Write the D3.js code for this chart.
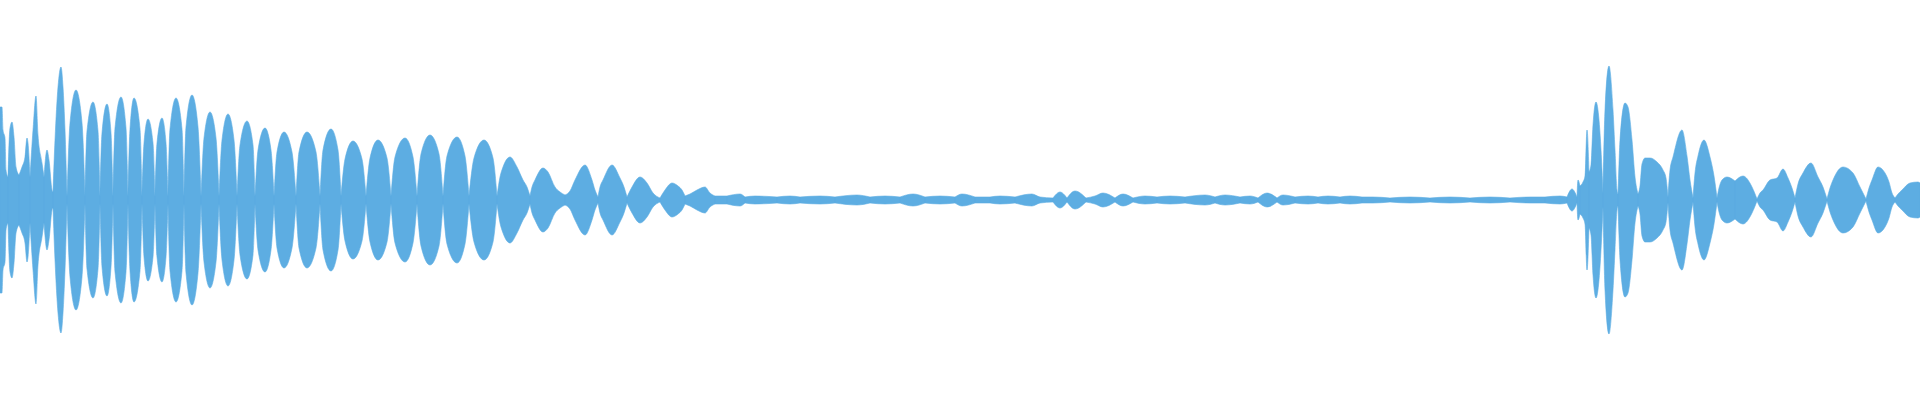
<!DOCTYPE html>
<html>
<head>
<meta charset="utf-8">
<script src="https://cdn.jsdelivr.net/npm/d3@7"></script>
<style>
  html, body { margin: 0; padding: 0; background: #ffffff; overflow: hidden; }
  svg { display: block; }
</style>
</head>
<body>
<svg id="chart" width="1920" height="400"></svg>
<script>
// Audio waveform envelope: frame index (timeline position) and peak amplitude (% of full scale)
const totalFrames = 1920;
const amplitudeDomain = [-100, 100];

const frameA = [0, 2, 3, 5, 6, 8, 10, 12, 14, 16, 19, 22, 25, 27, 28, 30, 33, 36, 38, 42, 44, 47, 49, 52, 53, 55, 58, 61, 63, 65, 67];
const ampA   = [46.5, 46.5, 35, 31, 15, 11.5, 36, 39, 31.5, 16.5, 12.5, 16.5, 21.5, 31, 28.5, 11.5, 35, 52, 32.5, 18.5, 11.5, 25, 20, 5, 4, 30, 56.5, 66.5, 56.5, 35, 2];

const frameB = [70, 76, 82, 85, 87, 93, 98, 100, 102, 107, 111, 113, 115, 121, 126, 128, 130, 134, 140, 142, 144, 148, 153, 155, 157, 162, 166, 168, 170, 176, 182, 184, 186, 192, 198, 201, 204, 210, 216, 219, 222, 228, 234, 237, 240, 247, 253, 255, 258, 265, 271, 274, 277, 284, 292, 296, 299, 307, 316, 320, 323, 331, 338, 341, 345, 353, 362, 366, 370, 378, 387, 391, 395, 405, 413, 417, 421, 430, 439, 443, 447, 457, 465, 469, 474, 484, 493, 497];
const ampB   = [38.5, 55, 38.5, 2, 34.5, 49, 34.5, 2, 33.5, 48, 33.5, 2, 36, 51.5, 36, 2, 35.5, 51, 35.5, 2, 28.5, 40.5, 28.5, 2, 28.5, 41, 28.5, 2, 35.5, 51, 35.5, 2, 36.5, 52.5, 36.5, 2, 31, 44, 31, 2, 30, 43, 30, 2, 27.5, 39.5, 27.5, 2, 25, 36, 25, 2, 24, 34, 24, 2, 24, 34, 24, 2, 25, 35.5, 25, 2, 20.5, 29.5, 20.5, 2, 21, 30, 21, 2, 21.5, 31, 21.5, 2, 23, 32.5, 23, 2, 22, 31.5, 22, 2, 21, 30, 21, 2];

const frameC = [500, 503, 510, 517, 523, 527, 530, 532, 535, 543, 548, 555, 560, 565, 570, 575, 585, 592, 595, 598, 600, 603, 612, 620, 624, 627, 632, 640, 647, 653, 660, 665, 672, 678, 682, 685, 690, 697, 705, 710, 715];
const ampC   = [11.5, 16.5, 21.5, 16.5, 10, 6.5, 2, 6.5, 10, 16, 14, 6.5, 4, 2.5, 4.5, 10, 17.5, 10, 5, 1.5, 6.5, 10, 17.5, 11, 6.5, 1.5, 6.5, 11.5, 8.5, 3.5, 1, 5, 8.5, 7, 5, 2, 3, 5, 6.5, 3.5, 2];

const frameD = [727, 740, 745, 755, 777, 790, 800, 820, 835, 857, 870, 885, 900, 913, 925, 940, 955, 962, 975, 990, 1000, 1015, 1032, 1040, 1053, 1060, 1067, 1075, 1086, 1095, 1103, 1115, 1123, 1133, 1145, 1157, 1170, 1185, 1205, 1215, 1225, 1240, 1250, 1258, 1267, 1277, 1283, 1295, 1308, 1318, 1328, 1340, 1350, 1362, 1373, 1390, 1410, 1430, 1450, 1470, 1490, 1510, 1530, 1545, 1560, 1567];
const ampD   = [2, 3, 1.5, 2, 1.5, 2, 1.5, 2, 1.5, 2.5, 1.5, 2, 1.5, 3, 1.5, 2, 1.5, 3, 1.5, 1.5, 2, 1.5, 3, 1.5, 1, 4, 1, 4.5, 1, 2, 3.5, 1, 3, 1, 2, 1.5, 2, 1.5, 2.5, 1.5, 2.5, 1.5, 2, 1, 3.5, 1, 2.5, 1.5, 2, 1.5, 2, 1.5, 2, 1.5, 1.5, 1, 1.5, 1, 1.5, 1, 1.5, 1, 1.5, 1.5, 2, 1.5];

const frameE = [1572, 1577, 1578, 1580, 1583, 1585, 1587, 1589, 1591, 1593, 1596, 1599, 1602, 1603, 1605, 1609, 1613, 1615, 1617, 1618, 1619, 1620, 1625, 1628, 1632, 1635, 1638];
const ampE   = [5.5, 1.5, 10, 7, 9, 12, 35, 14, 17.5, 37.5, 49, 40, 15, 3.5, 45, 67, 45, 25, 5, 3, 18, 30, 48.5, 46.5, 30, 11.5, 3];

const frameF = [1640, 1642, 1645, 1650, 1657, 1663, 1666, 1668, 1670, 1673, 1682, 1687, 1690, 1693, 1695, 1698, 1704, 1710, 1714, 1717, 1719, 1722, 1727, 1735, 1743, 1752, 1757, 1760, 1763, 1770, 1777, 1783, 1788, 1792, 1795, 1798, 1803, 1811, 1818, 1823, 1827, 1830, 1833, 1843, 1853, 1860, 1866, 1869, 1872, 1878, 1885, 1889, 1892, 1895, 1898, 1902, 1910, 1918, 1920];
const ampF   = [7, 18, 21, 21, 19, 15, 11, 1.5, 15, 21.5, 35, 22, 10, 1, 13.5, 22, 30, 21.5, 12, 1, 6, 10, 11.5, 9.5, 12, 6.5, 0.5, 3.5, 5, 10, 11, 15.5, 11, 6, 1, 8, 13.5, 18.5, 11.5, 6.5, 0.5, 6, 10, 16.5, 13.5, 6.5, 0.5, 6, 10, 16.5, 13.5, 9, 3.5, 1, 3, 5, 8.5, 9, 8.5];

const waveColor = "#5dade2";

// ---- build ----
const frames = [].concat(frameA, frameB, frameC, frameD, frameE, frameF);
const amps = [].concat(ampA, ampB, ampC, ampD, ampE, ampF);
if (frames.length !== amps.length) console.error("length mismatch", frames.length, amps.length);
const data = frames.map((f, i) => ({ f, a: amps[i] }));

const width = 1920, height = 400;
const svg = d3.select("#chart");

const x = d3.scaleLinear().domain([0, totalFrames]).range([0, width]);
const y = d3.scaleLinear().domain(amplitudeDomain).range([height, 0]);

// split into lobes at local minima of the envelope
const segments = [];
let cur = [data[0]];
for (let i = 1; i < data.length; i++) {
  cur.push(data[i]);
  const isMin = i < data.length - 1 && data[i].a <= data[i - 1].a && data[i].a <= data[i + 1].a;
  if (isMin) { segments.push(cur); cur = [data[i]]; }
}
if (cur.length > 1) segments.push(cur);

const area = d3.area()
  .x(d => x(d.f))
  .y0(d => y(-d.a))
  .y1(d => y(d.a))
  .curve(d3.curveMonotoneX);

const pathD = segments.map(s => area(s)).join("");

svg.append("path")
  .attr("d", pathD)
  .attr("fill", waveColor)
  .attr("stroke", waveColor)
  .attr("stroke-width", 0.6);
</script>
</body>
</html>
